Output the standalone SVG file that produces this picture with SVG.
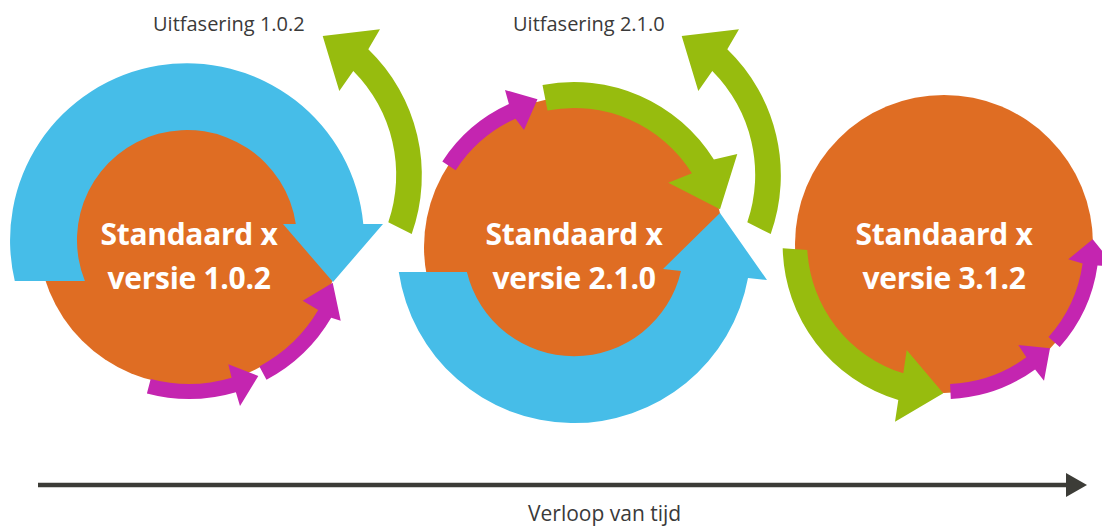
<svg xmlns="http://www.w3.org/2000/svg" width="1102" height="528" viewBox="0 0 1102 528">
  <style>
    .disc { fill: #DF6D23; }
    .blue { fill: #46BDE8; }
    .green { fill: #97BC0E; }
    .magenta { fill: #C425B0; }
    .title { font-family: "Open Sans", "Noto Sans", sans-serif; font-weight: 700; font-size: 30px; fill: #FFFFFF; text-anchor: middle; letter-spacing: -0.3px; }
    .label { font-family: "Open Sans", "Noto Sans", sans-serif; font-size: 20px; fill: #3A3A3A; }
    .axis { stroke: #3C3C37; stroke-width: 4.5; fill: none; }
  </style>
  <defs>
    <marker id="axisHead" viewBox="0 0 21 24" refX="0" refY="12" markerWidth="21" markerHeight="24" markerUnits="userSpaceOnUse" orient="auto">
      <path d="M0,0 L21,12 L0,24 Z" fill="#3C3C37"/>
    </marker>
    <!-- phase-out arrow, shared by both releases -->
    <path id="phaseOut" d="M 411.7,234 A 175 175 0 0 0 368.3,49.3 L 380,29.3 L 322.7,36 L 339.3,91 L 353.3,71 A 147 147 0 0 1 388.3,222.3 Z"/>
  </defs>

  <!-- versions -->
  <g id="versie-1-0-2">
    <circle class="disc" cx="189" cy="234" r="151"/>
    <text class="title" x="189" y="245">Standaard x</text>
    <text class="title" x="189" y="289">versie 1.0.2</text>
  </g>
  <g id="versie-2-1-0">
    <circle class="disc" cx="574" cy="247" r="150"/>
    <text class="title" x="574" y="244.5">Standaard x</text>
    <text class="title" x="574" y="288.5">versie 2.1.0</text>
  </g>
  <g id="versie-3-1-2">
    <circle class="disc" cx="944" cy="244" r="149"/>
    <text class="title" x="944" y="245">Standaard x</text>
    <text class="title" x="944" y="288.5">versie 3.1.2</text>
  </g>

  <!-- phase-out labels -->
  <g id="label-uitfasering-1-0-2">
    <text class="label" x="153" y="31">Uitfasering 1.0.2</text>
  </g>
  <g id="label-uitfasering-2-1-0">
    <text class="label" x="513" y="31">Uitfasering 2.1.0</text>
  </g>

  <!-- cycle arrows -->
  <g id="connectors">
    <!-- version 1.0.2 -->
    <path class="blue" d="M 14.8,281 A 177 177 0 1 1 363.3,224 L 383,224 L 333,282 L 283,224 L 295.8,224 A 110 110 0 1 0 84.9,281 Z"/>
    <path class="magenta" d="M 146.9,393.5 A 165 165 0 0 0 235.9,392.2 L 240,406 L 258.3,376 L 228.3,364.3 L 231.6,377.8 A 150 150 0 0 1 150.7,379 Z"/>
    <path class="magenta" d="M 266.5,379.7 A 165 165 0 0 0 331.2,317.7 L 340.7,320.7 L 332.7,282.7 L 302.7,300.7 L 318.2,310.1 A 150 150 0 0 1 259.4,366.4 Z"/>
    <use href="#phaseOut" class="green"/>

    <!-- version 2.1.0 -->
    <path class="blue" d="M 398.8,272 A 177 177 0 0 0 748,278 L 767,280 L 720,213 L 663,269 L 681,271 A 110 110 0 0 1 466.9,272 Z"/>
    <path class="green" d="M 542.5,85 A 165 165 0 0 1 713.9,159.6 L 737.3,154 L 720,209.3 L 668.3,182.7 L 691.9,173.3 A 139 139 0 0 0 547.5,110.6 Z"/>
    <path class="magenta" d="M 442.3,161.5 A 157 157 0 0 1 508.9,104.1 L 505,90 L 537.5,99.3 L 524,130 L 515.5,118.7 A 141 141 0 0 0 455.7,170.2 Z"/>
    <use href="#phaseOut" class="green" transform="translate(359,0)"/>

    <!-- version 3.1.2 -->
    <path class="green" d="M 782.7,248.3 A 162 162 0 0 0 898.3,400 L 895,421.7 L 943.3,393.3 L 906.7,350 L 903.3,373.3 A 137 137 0 0 1 807.3,250 Z"/>
    <path class="magenta" d="M 950.8,398.9 A 155 155 0 0 0 1035.1,369.4 L 1044,380.7 L 1050,348.3 L 1018.3,345 L 1026.3,357.3 A 140 140 0 0 1 950.1,383.9 Z"/>
    <path class="magenta" d="M 1059.7,347.1 A 155 155 0 0 0 1097.5,265.6 L 1114.5,266.4 L 1092.7,239.3 L 1068.3,259.3 L 1082.6,263.5 A 140 140 0 0 1 1048.5,337.1 Z"/>

    <!-- time axis -->
    <line class="axis" x1="38" y1="485" x2="1066" y2="485" marker-end="url(#axisHead)"/>
  </g>

  <g id="label-verloop">
    <text class="label" x="528" y="521" style="font-size:21px">Verloop van tijd</text>
  </g>
</svg>
